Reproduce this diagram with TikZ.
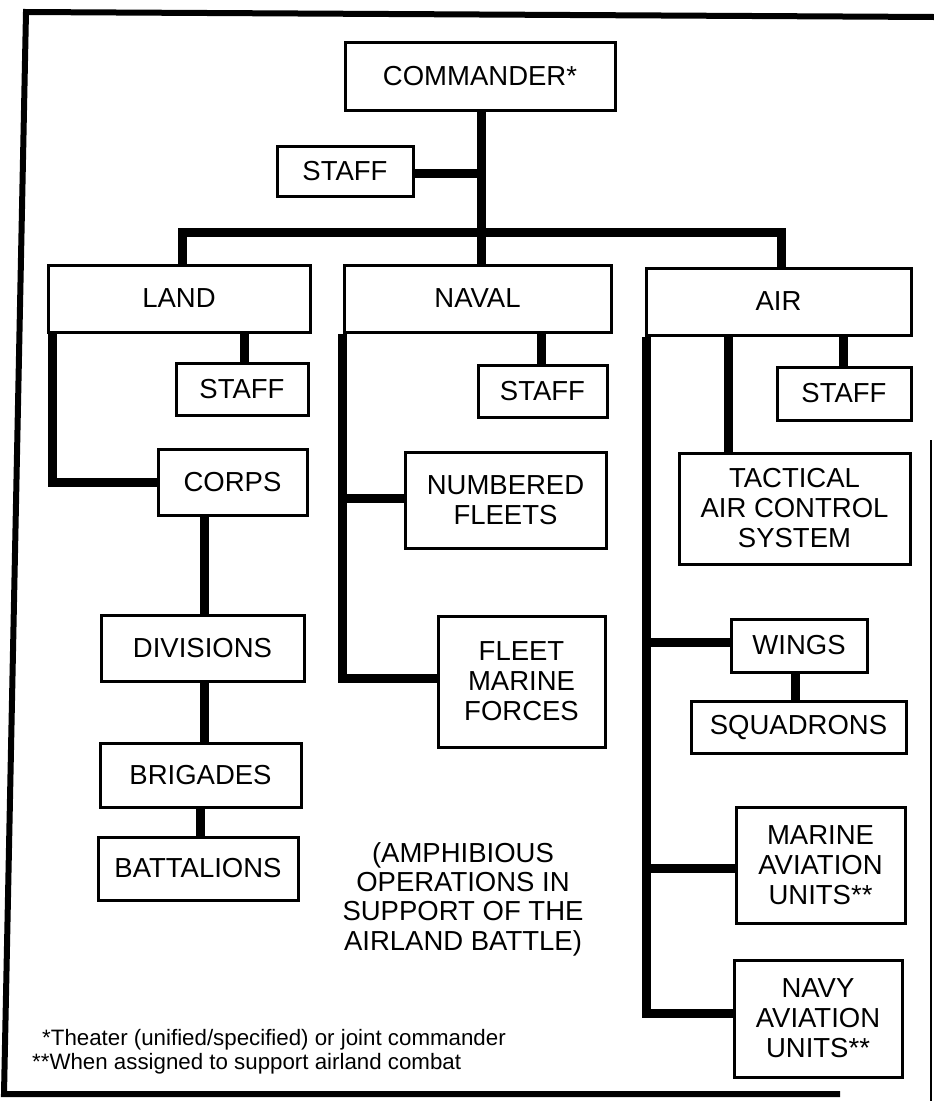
\documentclass[tikz,border=0pt]{standalone}
\usepackage{fontspec}
\setmainfont{Liberation Sans}
\usetikzlibrary{backgrounds}
\begin{document}
\begin{tikzpicture}[x=1pt,y=-1pt,
  unit/.style={draw=black,line width=3pt,fill=white,inner sep=0pt,align=center,
    font=\fontsize{27.5}{30}\selectfont},
  conn/.style={line width=9pt,line join=miter,draw=black},
  note/.style={anchor=base west,inner sep=0pt,font=\fontsize{22.3}{24}\selectfont}]
\useasboundingbox (0,0) rectangle (934,1101);
% frame
\draw[line width=6pt,line join=miter] (934,17) -- (26,12) -- (4,1094) -- (840,1094);
\draw[line width=1.2pt] (931,440) -- (931,1101);
% boxes
\node[unit,minimum width=270pt,minimum height=68pt] (cmd) at (480,76) {COMMANDER*};
\node[unit,minimum width=136pt,minimum height=50pt] (staff0) at (345,171) {STAFF};
\node[unit,minimum width=262pt,minimum height=67pt] (land) at (179,298.5) {LAND};
\node[unit,minimum width=267pt,minimum height=67pt] (naval) at (477.5,298.5) {NAVAL};
\node[unit,minimum width=265pt,minimum height=67pt] (air) at (778.5,301.5) {AIR};
\node[unit,minimum width=132pt,minimum height=52pt] (lstaff) at (242,389) {STAFF};
\node[unit,minimum width=149pt,minimum height=66pt] (corps) at (232.5,482) {CORPS};
\node[unit,minimum width=129pt,minimum height=52pt] (nstaff) at (542.5,391) {STAFF};
\node[unit,minimum width=201pt,minimum height=96pt] (numbered) at (505.5,500) {NUMBERED\\FLEETS};
\node[unit,minimum width=134pt,minimum height=53pt] (astaff) at (844,393.5) {STAFF};
\node[unit,minimum width=231pt,minimum height=111pt] (tactical) at (794.5,508.5) {TACTICAL\\AIR CONTROL\\SYSTEM};
\node[unit,minimum width=203pt,minimum height=66pt] (divisions) at (202.5,648) {DIVISIONS};
\node[unit,minimum width=201pt,minimum height=64pt] (brigades) at (200.5,775) {BRIGADES};
\node[unit,minimum width=200pt,minimum height=63pt] (battalions) at (198,868.5) {BATTALIONS};
\node[unit,minimum width=167pt,minimum height=131pt] (fleet) at (521.5,681.5) {FLEET\\MARINE\\FORCES};
\node[unit,minimum width=136pt,minimum height=53pt] (wings) at (799,645.5) {WINGS};
\node[unit,minimum width=215pt,minimum height=52pt] (squadrons) at (798.5,727) {SQUADRONS};
\node[unit,minimum width=169pt,minimum height=116pt] (marine) at (820.5,865) {MARINE\\AVIATION\\UNITS**};
\node[unit,minimum width=168pt,minimum height=117pt] (navy) at (818,1018.5) {NAVY\\AVIATION\\UNITS**};
% free text
\node[inner sep=0pt,align=center,font=\fontsize{27.5}{29.3}\selectfont] (amphib) at (463,899)
  {(AMPHIBIOUS\\OPERATIONS IN\\SUPPORT OF THE\\AIRLAND BATTLE)};
\node[note] (fn1) at (42,1045) {*Theater (unified/specified) or joint commander};
\node[note] (fn2) at (32,1069) {**When assigned to support airland combat};
% junctions
\coordinate (barL) at (182,232);
\coordinate (barC) at (481,232);
\coordinate (barR) at (781,232);
\coordinate (jStaff) at (481,173);
\coordinate (jCorps) at (52,482);
\coordinate (jLs) at (244,0);
\coordinate (jDiv) at (204,0);
\coordinate (jBrig) at (200,0);
\coordinate (jNum) at (342,498);
\coordinate (jFleet) at (342,678);
\coordinate (jNs) at (541,0);
\coordinate (jTac) at (728,0);
\coordinate (jAs) at (843,0);
\coordinate (jWings) at (646,642);
\coordinate (jMarine) at (646,868);
\coordinate (jNavy) at (646,1013);
\coordinate (jSq) at (795,0);
\begin{pgfonlayer}{background}
\draw[conn] (cmd.center -| barC) -- (barC);
\draw[conn] (staff0.center |- jStaff) -- (jStaff);
\draw[conn] (land.center -| barL) -- (barL) -- (barR) -- (air.center -| barR);
\draw[conn] (barC) -- (naval.center -| barC);
% land
\draw[conn] (land.south -| jCorps) -- (jCorps) -- (jCorps -| corps.center);
\draw[conn] (land.center -| jLs) -- (lstaff.center -| jLs);
\draw[conn] (corps.center -| jDiv) -- (divisions.center -| jDiv);
\draw[conn] (divisions.center -| jDiv) -- (brigades.center -| jDiv);
\draw[conn] (brigades.center -| jBrig) -- (battalions.center -| jBrig);
% naval
\draw[conn] (naval.south -| jFleet) -- (jFleet) -- (jFleet -| fleet.center);
\draw[conn] (jNum) -- (jNum -| numbered.center);
\draw[conn] (naval.center -| jNs) -- (nstaff.center -| jNs);
% air
\draw[conn] (air.south -| jNavy) -- (jNavy) -- (jNavy -| navy.center);
\draw[conn] (jWings) -- (jWings -| wings.center);
\draw[conn] (jMarine) -- (jMarine -| marine.center);
\draw[conn] (air.center -| jTac) -- (tactical.center -| jTac);
\draw[conn] (air.center -| jAs) -- (astaff.center -| jAs);
\draw[conn] (wings.center -| jSq) -- (squadrons.center -| jSq);
\end{pgfonlayer}
\end{tikzpicture}
\end{document}
